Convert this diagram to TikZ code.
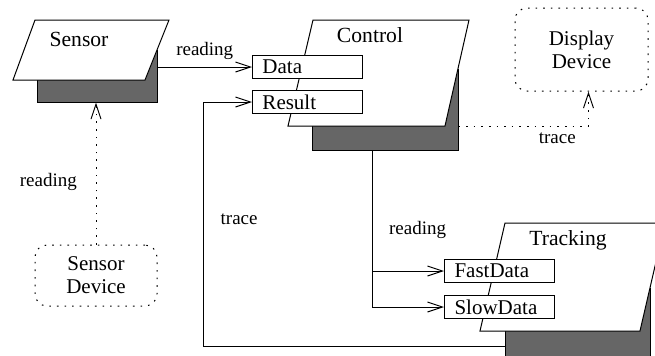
\documentclass[tikz,border=0pt]{standalone}
\usepackage{fontspec}
\setmainfont{Liberation Serif}
\usetikzlibrary{arrows.meta,fit}

\begin{document}
\begin{tikzpicture}[x=0.5pt,y=-0.5pt,>={Straight Barb[length=7.5pt,width=5pt]},
  line width=0.5pt,
  body/.style={draw,fill=white},
  shade box/.style={draw,fill=black!60,inner sep=0pt},
  port/.style={draw,fill=white,anchor=north west,minimum width=55pt,minimum height=11.5pt,
    inner sep=0pt,text width=45pt,align=left,font=\fontsize{10.5}{12}\selectfont},
  device/.style={draw,dash pattern=on 0.8pt off 3pt,rounded corners=6pt,inner sep=0pt,
    align=center,font=\fontsize{10.5}{11.5}\selectfont},
  title/.style={font=\fontsize{10.8}{12}\selectfont},
  lab/.style={font=\fontsize{9.5}{11}\selectfont},
  trace line/.style={dash pattern=on 0.8pt off 3pt}]

  \clip (0,0) rectangle (655,355);

  % Sensor
  \node[shade box,fit={(37,50) (157,102)}] (sensorshadow) {};
  \draw[body] (35,20) -- (169,20) -- (145,80) -- (13,80) -- cycle;
  \node[title] (sensor) at (79,39) {Sensor};

  % Control
  \node[shade box,fit={(312,69) (458,150)}] (controlshadow) {};
  \draw[body] (313,20) -- (469,20) -- (445,126) -- (288,126) -- cycle;
  \coordinate (controlbottom) at (445,126);
  \node[title] (control) at (370,35) {Control};
  \node[port] (data) at (252,55) {Data};
  \node[port] (result) at (252,90) {Result};

  % Tracking
  \node[shade box,fit={(505,288) (650,360)}] (trackshadow) {};
  \draw[body] (505,223) -- (665,223) -- (640,331) -- (480,331) -- cycle;
  \node[title] (tracking) at (568,240) {Tracking};
  \node[port] (fastdata) at (444,259) {FastData};
  \node[port] (slowdata) at (444,295) {SlowData};

  % devices
  \node[device,minimum width=66.5pt,minimum height=41.5pt] (display) at (581.5,49.5) {Display\\Device};
  \node[device,minimum width=61pt,minimum height=30.5pt] (sensordev) at (96,275.5) {Sensor\\Device};

  % connectors
  \draw[->] (sensorshadow.east |- data.west) -- (data.west)
    node[midway,above,lab] {reading};
  \draw[->,trace line] (sensordev.north) -- (sensordev.north |- sensorshadow.south)
    node[pos=0.44,left=6pt,lab] {reading};
  \draw[->,trace line] (controlshadow.east |- controlbottom) -| ([xshift=3.5pt]display.south)
    node[pos=0.38,below,lab] {trace};
  \draw[->] ([xshift=-6.5pt]controlshadow.south) |- (fastdata.west)
    node[pos=0.33,right=5pt,lab] {reading};
  \draw[->] ([xshift=-6.5pt]controlshadow.south) |- (slowdata.west);
  \draw[->] ([yshift=-11pt]trackshadow.west) -- ++(-150.5pt,0) |- (result.west)
    node[pos=0.26,right=5pt,lab] {trace};
\end{tikzpicture}
\end{document}
